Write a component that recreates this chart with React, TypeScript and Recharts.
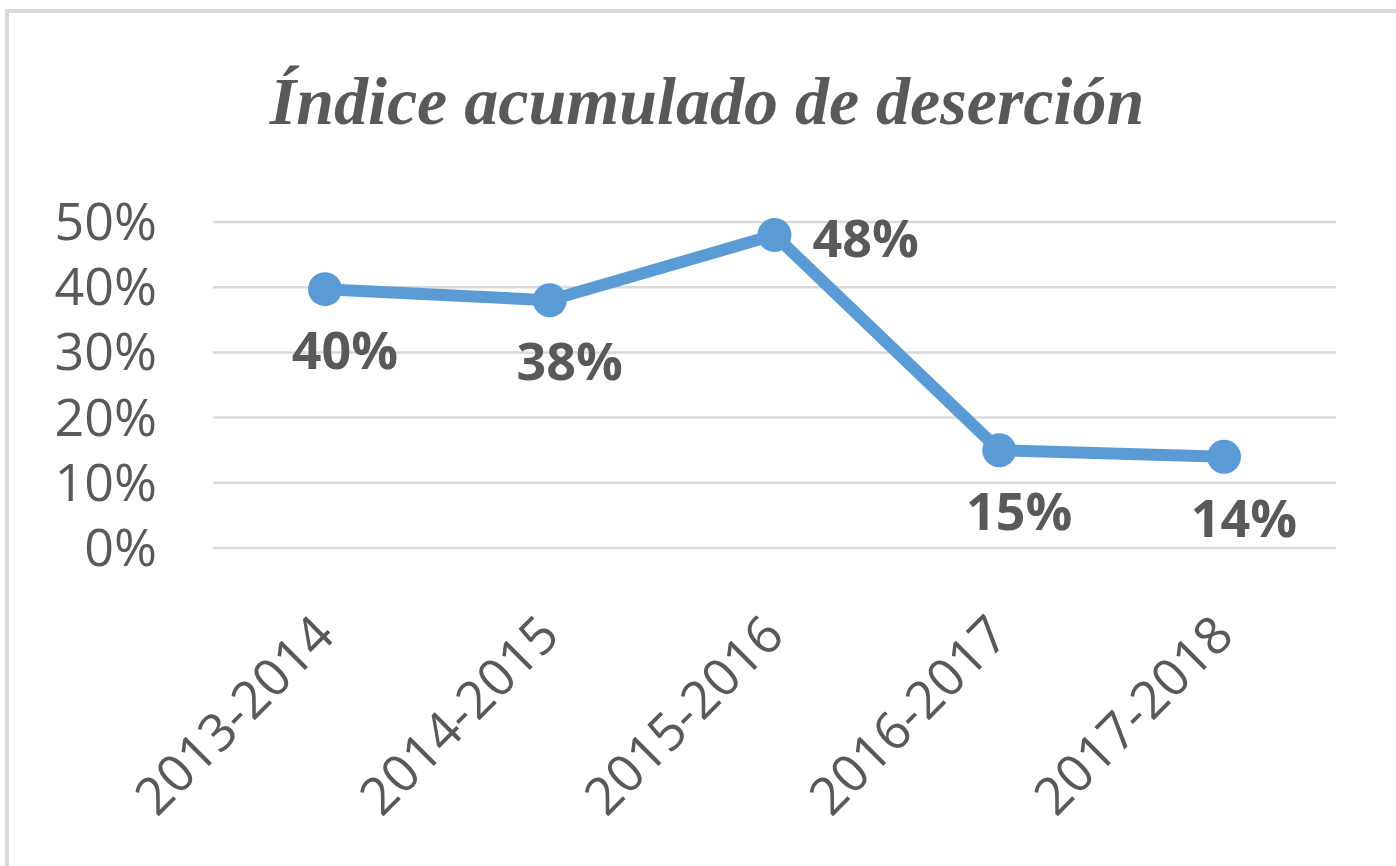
import React from 'react';
import { LineChart, Line, XAxis, YAxis, CartesianGrid, LabelList } from 'recharts';

const periods = ['2013-2014', '2014-2015', '2015-2016', '2016-2017', '2017-2018'];
const dropoutRate = [0.397, 0.38, 0.48, 0.15, 0.14];
const yTicks = [0, 0.1, 0.2, 0.3, 0.4, 0.5];
const labelSide = ['below', 'below', 'right', 'below', 'below'];

const data = periods.map((period, i) => ({ period, rate: dropoutRate[i] }));

const GRAY = '#595959';
const BLUE = '#5B9BD5';
const FONT = '"Open Sans", sans-serif';

const pct = (v: number) => `${Math.round(v * 100)}%`;

const XTick = (props: any) => {
  const { x, y, payload } = props;
  const px = x + 12;
  const py = y + 82;
  return (
    <text
      x={px}
      y={py}
      transform={`rotate(-45, ${px}, ${py})`}
      textAnchor="end"
      fill={GRAY}
      fontSize={52}
      fontFamily={FONT}
    >
      {payload.value}
    </text>
  );
};

const YTick = (props: any) => {
  const { x, y, payload } = props;
  return (
    <text x={x} y={y} dy={18} textAnchor="end" fill={GRAY} fontSize={52} fontFamily={FONT}>
      {pct(payload.value)}
    </text>
  );
};

const PointLabel = (props: any) => {
  const { x, y, value, index } = props;
  const right = labelSide[index] === 'right';
  return (
    <text
      x={right ? x + 38 : x + 20}
      y={right ? y + 22 : y + 80}
      textAnchor={right ? 'start' : 'middle'}
      fill={GRAY}
      fontSize={52}
      fontWeight="bold"
      fontFamily={FONT}
    >
      {pct(value)}
    </text>
  );
};

const App: React.FC = () => {
  return (
    <div style={{ position: 'absolute', left: 0, top: 0, width: 1396, height: 866, background: '#fff', overflow: 'hidden' }}>
      <div
        style={{
          position: 'absolute',
          left: 5,
          top: 9,
          width: 1391,
          height: 857,
          boxSizing: 'border-box',
          borderTop: '4px solid #d9d9d9',
          borderLeft: '4px solid #d9d9d9',
        }}
      />
      <div
        style={{
          position: 'absolute',
          left: 0,
          top: 67,
          width: 1414,
          textAlign: 'center',
          fontFamily: '"Liberation Serif", serif',
          fontWeight: 'bold',
          fontStyle: 'italic',
          fontSize: 68,
          lineHeight: 1,
          color: GRAY,
        }}
      >
        Índice acumulado de deserción
      </div>
      <div style={{ position: 'absolute', left: 0, top: 0 }}>
        <LineChart width={1396} height={866} data={data} margin={{ top: 222, right: 60, bottom: 0, left: 0 }}>
          <CartesianGrid horizontal vertical={false} stroke="#d9d9d9" strokeWidth={2.5} />
          <XAxis
            dataKey="period"
            axisLine={false}
            tickLine={false}
            interval={0}
            height={318}
            padding={{ left: 112, right: 112 }}
            tick={<XTick />}
          />
          <YAxis
            domain={[0, 0.5]}
            ticks={yTicks}
            axisLine={false}
            tickLine={false}
            width={213}
            tickMargin={50}
            tick={<YTick />}
          />
          <Line
            type="linear"
            dataKey="rate"
            stroke={BLUE}
            strokeWidth={12}
            dot={{ r: 17, fill: BLUE, stroke: 'none' }}
            activeDot={false}
            isAnimationActive={false}
          >
            <LabelList dataKey="rate" content={<PointLabel />} />
          </Line>
        </LineChart>
      </div>
    </div>
  );
};

export default App;
